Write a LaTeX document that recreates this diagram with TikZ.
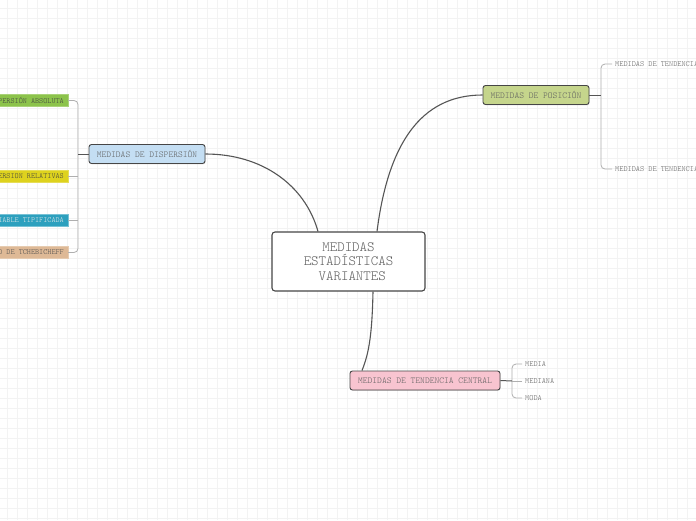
\documentclass[tikz,border=0pt]{standalone}
\usepackage{fontspec}
\newfontfamily\mono{Latin Modern Mono Light}
\usetikzlibrary{shadows}
\definecolor{gridc}{RGB}{243,243,243}
\definecolor{txt}{RGB}{95,95,95}
\definecolor{bord}{RGB}{70,70,70}
\definecolor{linec}{RGB}{85,85,85}
\definecolor{brc}{RGB}{175,175,175}
\definecolor{dispc}{RGB}{196,222,243}
\definecolor{posc}{RGB}{197,213,140}
\definecolor{tendc}{RGB}{248,196,208}
\definecolor{lgreen}{RGB}{140,195,75}
\definecolor{lyellow}{RGB}{222,210,30}
\definecolor{lteal}{RGB}{45,160,190}
\definecolor{ltan}{RGB}{222,185,150}
\tikzset{
  centre/.style={draw=bord, line width=1.1pt, rounded corners=3pt, fill=white,
    minimum width=153pt, minimum height=59pt, align=center, text=txt,
    font=\mono\fontsize{14.2}{14.5}\selectfont, inner sep=0pt},
  mainbox/.style={draw=bord, line width=0.9pt, rounded corners=2.5pt,
    minimum height=19pt, inner sep=0pt, text=txt,
    font=\mono\fontsize{9.1}{10}\selectfont,
    drop shadow={shadow xshift=0.6pt, shadow yshift=-0.8pt, opacity=0.25}},
  leafbox/.style={minimum height=12pt, inner xsep=4pt, inner ysep=0pt,
    font=\mono\fontsize{7.8}{9}\selectfont, anchor=east},
  leaftxt/.style={inner xsep=3pt, inner ysep=0pt, text=txt,
    font=\mono\fontsize{7.9}{9}\selectfont, anchor=west},
  mainline/.style={draw=linec, line width=1.1pt},
  brline/.style={draw=brc, line width=0.8pt, rounded corners=4pt},
  stemline/.style={draw=linec, line width=1pt},
}
\begin{document}
\begin{tikzpicture}[x=1pt,y=-1pt]
\useasboundingbox (0,0) rectangle (696,520);
\clip (0,0) rectangle (696,520);
\fill[white] (0,0) rectangle (696,520);
\foreach \i in {0,...,69} {\draw[gridc, line width=0.6pt] (\i*10+7,0) -- (\i*10+7,520);}
\foreach \j in {0,...,51} {\draw[gridc, line width=0.6pt] (0,\j*10+8) -- (696,\j*10+8);}

% central node
\node[centre] (c) at (348.5,261.5) {MEDIDAS\\ESTADÍSTICAS\\\ VARIANTES};

% main branches
\node[mainbox, fill=dispc, minimum width=116pt] (d) at (147,154) {MEDIDAS DE DISPERSIÓN};
\node[mainbox, fill=posc, minimum width=106pt] (p) at (536,95) {MEDIDAS DE POSICIÓN};
\node[mainbox, fill=tendc, minimum width=150pt] (t) at (425,380.5) {MEDIDAS DE TENDENCIA CENTRAL};

% left leaves
\node[leafbox, fill=lgreen, draw=lgreen!75!white, text=black!75] (l1) at (68,100.5) {MEDIDAS DE DISPERSIÓN ABSOLUTA};
\node[leafbox, fill=lyellow, draw=lyellow!75!white, text=black!75] (l2) at (68,176) {MEDIDAS DE DISPERSION RELATIVAS};
\node[leafbox, fill=lteal, draw=lteal!65!white, text=white!92!black] (l3) at (68,220) {VARIABLE TIPIFICADA};
\node[leafbox, fill=ltan, draw=ltan!75!white, text=black!70] (l4) at (68,252.5) {DESIGUALDAD DE TCHEBICHEFF};

% right leaves
\node[leaftxt] (r1) at (612,64) {MEDIDAS DE TENDENCIA NO CENTRAL};
\node[leaftxt] (r2) at (612,169) {MEDIDAS DE TENDENCIA NO CENTRAL};

% tendencia leaves
\node[leaftxt] (m1) at (522,364) {MEDIA};
\node[leaftxt] (m2) at (522,381) {MEDIANA};
\node[leaftxt] (m3) at (522,398) {MODA};

% main curves
\draw[mainline] ([xshift=-30.5pt]c.north) .. controls (305,185) and (262,154) .. (d.east);
\draw[mainline] ([xshift=28.5pt]c.north) .. controls (388,145) and (420,95) .. (p.west);
\draw[mainline] ([xshift=24.5pt]c.south) .. controls (372,340) and (368,355) .. ([xshift=-63pt]t.north);

% left bracket
\coordinate (bl) at (78,154);
\draw[brline] (l1.east) -| (bl) |- (l4.east);
\draw[brline] (l2.east) -- (l2.east -| bl);
\draw[brline] (l3.east) -- (l3.east -| bl);
\draw[stemline] (d.west) -- (bl);

% right bracket
\coordinate (br) at (601,95);
\draw[brline] (r1.west) -| (br) |- (r2.west);
\draw[stemline] (p.east) -- (br);

% tendencia bracket
\coordinate (bt) at (512,381);
\draw[brline] (m1.west) -| (bt) |- (m3.west);
\draw[brline] (m2.west) -- (bt);
\draw[stemline] (t.east) -- (bt);
\end{tikzpicture}
\end{document}
